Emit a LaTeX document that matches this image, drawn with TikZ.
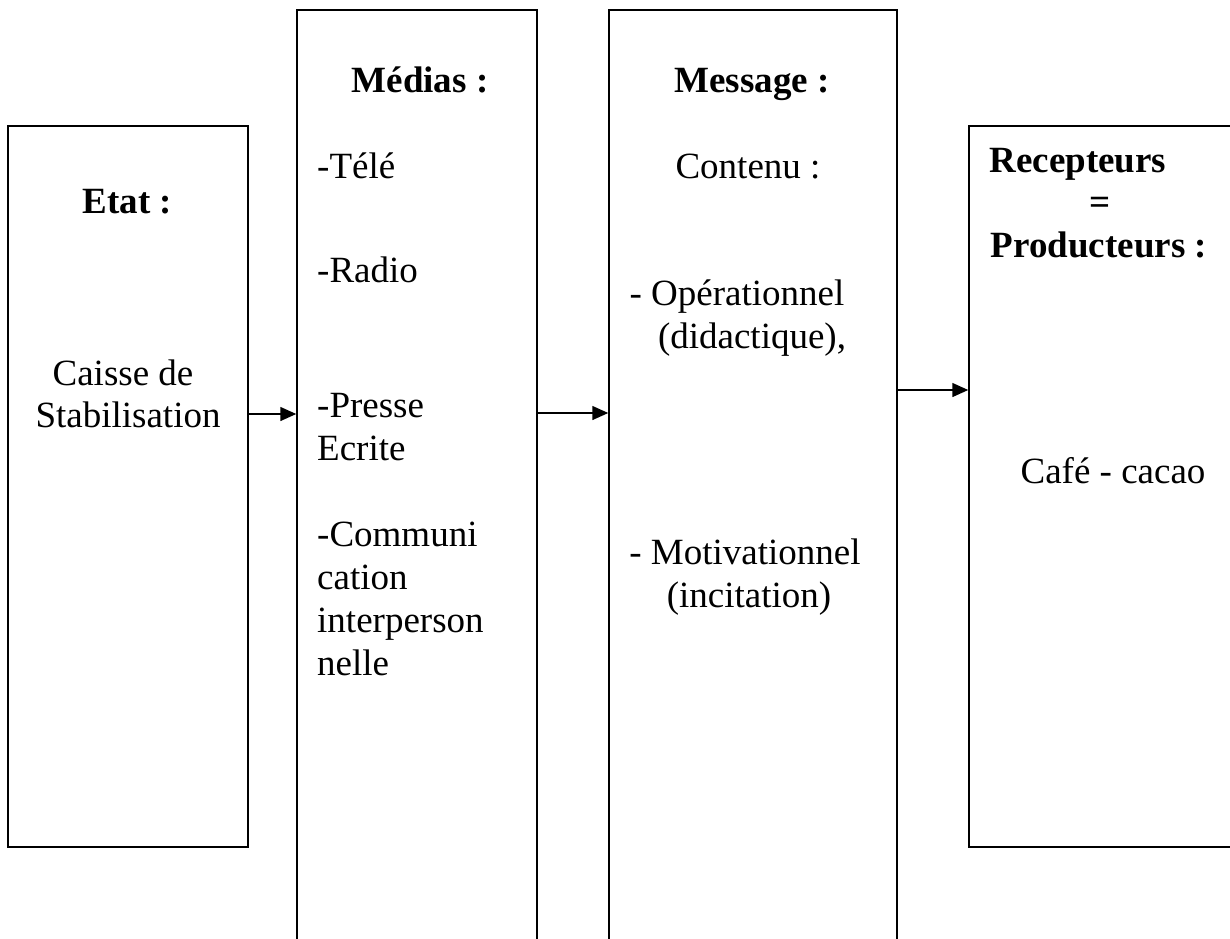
\documentclass[tikz,border=0pt]{standalone}
\usepackage{fontspec}
\setmainfont{Liberation Serif}
\usetikzlibrary{arrows.meta}
\begin{document}
\begin{tikzpicture}[x=1pt,y=-1pt,
  box/.style={draw,line width=1.5pt,inner sep=0pt,rectangle},
  txt/.style={inner sep=0pt,font=\fontsize{37}{42.5}\selectfont},
  lft/.style={txt,anchor=base west},
  ctr/.style={txt,anchor=base},
  hd/.style={ctr,font=\fontsize{37}{42.5}\selectfont\bfseries},
  arr/.style={line width=1.5pt,-{Triangle[length=16pt,width=14pt]}}]
\useasboundingbox (0,0) rectangle (1230,938);
\clip (0,0) rectangle (1230,938);
% boxes
\node[box,minimum width=240pt,minimum height=721pt] (etat) at (128,486.5) {};
\node[box,minimum width=240pt,minimum height=1000pt] (medias) at (417,510) {};
\node[box,minimum width=288pt,minimum height=1000pt] (message) at (753,510) {};
\node[box,minimum width=361pt,minimum height=721pt] (recep) at (1149.5,486.5) {};
% arrow levels
\coordinate (y1) at (0,414);
\coordinate (y2) at (0,413);
\coordinate (y3) at (0,390);
\draw[arr] (etat.east |- y1) -- (medias.west |- y1);
\draw[arr] (medias.east |- y2) -- (message.west |- y2);
\draw[arr] (message.east |- y3) -- (recep.west |- y3);
% Etat
\node[hd] (t1) at (127.5,213) {Etat :};
\node[ctr] (t2) at (123,385) {Caisse de};
\node[ctr] (t3) at (128,427) {Stabilisation};
% Medias
\node[hd] (m0) at (420,92) {Médias :};
\node[lft] (m1) at (317,178) {-Télé};
\node[lft] (m2) at (317,282) {-Radio};
\node[lft] (m3) at (317,417) {-Presse};
\node[lft] (m4) at (317,460) {Ecrite};
\node[lft] (m5) at (317,546) {-Communi};
\node[lft] (m6) at (317,589) {cation};
\node[lft] (m7) at (317,632) {interperson};
\node[lft] (m8) at (317,675) {nelle};
% Message
\node[hd] (s0) at (752,92) {Message :};
\node[ctr] (s1) at (748,178) {Contenu :};
\node[ctr] (s2) at (737,305) {- Opérationnel};
\node[ctr] (s3) at (752,348) {(didactique),};
\node[ctr] (s4) at (745,564) {- Motivationnel};
\node[ctr] (s5) at (749,607) {(incitation)};
% Recepteurs
\node[hd] (r1) at (1078,172) {Recepteurs};
\node[hd] (r2) at (1100,214) {=};
\node[hd] (r3) at (1099,257) {Producteurs :};
\node[ctr] (r4) at (1113,483) {Café - cacao};
\end{tikzpicture}
\end{document}
